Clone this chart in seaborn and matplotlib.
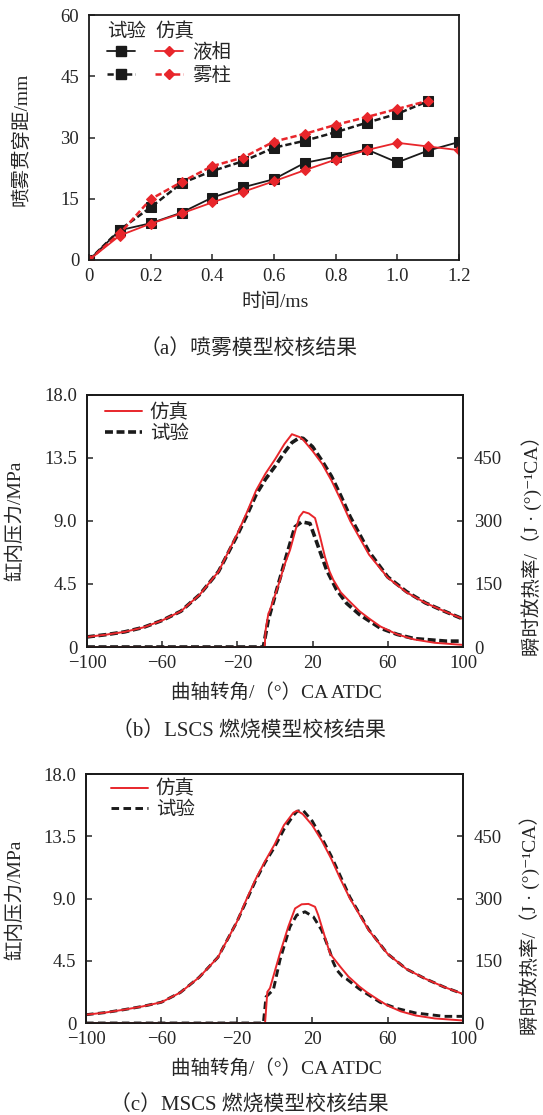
import numpy as np
import pandas as pd
import matplotlib
matplotlib.use("Agg")
import matplotlib.pyplot as plt
from matplotlib.lines import Line2D
from matplotlib.legend_handler import HandlerTuple
import seaborn as sns

# ---------------- data ----------------
# (a) spray penetration, mm
t_liquid = [0, 0.1, 0.2, 0.3, 0.4, 0.5, 0.6, 0.7, 0.8, 0.9, 1.0, 1.1, 1.2]
exp_liquid = [0, 7.3, 9.0, 11.6, 15.3, 17.8, 19.8, 23.8, 25.3, 27.1, 23.9, 26.8, 28.9]
sim_liquid = [0, 6.0, 8.9, 11.4, 14.1, 16.7, 19.3, 22.0, 24.6, 26.9, 28.7, 27.8, 26.9]
t_spray = [0, 0.1, 0.2, 0.3, 0.4, 0.5, 0.6, 0.7, 0.8, 0.9, 1.0, 1.1]
exp_spray = [0, 7.4, 12.9, 18.8, 21.8, 24.2, 27.5, 29.2, 31.3, 33.6, 35.8, 38.9]
sim_spray = [0, 6.5, 14.9, 19.1, 23.0, 25.1, 29.0, 30.9, 33.1, 35.0, 37.0, 39.0]

# (b) LSCS: cylinder pressure (MPa)
ang_p_b = [-100, -90, -80, -70, -60, -50, -40, -30, -20, -15, -10, -5, 0, 5, 9, 13,
           15, 20, 25, 30, 35, 40, 50, 60, 70, 80, 90, 100]
sim_p_b = [0.72, 0.88, 1.08, 1.4, 1.9, 2.56, 3.75, 5.4, 8.1, 9.6, 11.2, 12.4, 13.4, 14.5,
           15.2, 15.0, 14.8, 14.0, 13.1, 11.9, 10.5, 9.0, 6.6, 4.95, 3.9, 3.15, 2.56, 2.0]
exp_p_b = [0.72, 0.88, 1.08, 1.4, 1.9, 2.56, 3.75, 5.4, 8.0, 9.4, 10.9, 12.0, 12.9, 13.9,
           14.6, 14.95, 14.9, 14.3, 13.3, 12.2, 10.8, 9.3, 6.8, 5.0, 3.95, 3.15, 2.56, 2.0]
# (b) LSCS: heat release rate J/(deg CA)
ang_hs_b = [-100, -5.5, -5, -3.5, -3, -1, 2, 5, 8, 11, 13, 15.1, 18, 21.3, 24, 26.6, 29,
            31, 35, 38.9, 45, 50, 56, 65, 74, 85, 100]
sim_h_b = [0, 0, 40, 80, 84, 110, 150, 195, 231, 280, 310, 322, 318, 307, 262, 214, 180,
           160, 130, 112, 85, 68, 49, 30, 18, 10, 5]
ang_he_b = [-100, -6.2, -3.6, 0.9, 6.2, 10.6, 14.2, 18.6, 23, 27.5, 32.8, 38.1, 45, 56,
            65, 74, 91, 100]
exp_h_b = [0, 0, 64, 136, 219, 286, 298, 294, 239, 183, 136, 104, 77, 45, 30, 20, 14, 14]

# (c) MSCS: cylinder pressure (MPa)
ang_p_c = [-100, -90, -80, -70, -60, -50, -40, -30, -20, -15, -10, -5, 0, 5, 10, 12, 15,
           20, 25, 30, 35, 40, 50, 60, 70, 80, 90, 100]
sim_p_c = [0.6, 0.75, 0.96, 1.2, 1.5, 2.2, 3.3, 4.75, 7.3, 8.9, 10.4, 11.7, 12.9, 14.3,
           15.2, 15.35, 15.1, 14.3, 13.2, 11.9, 10.4, 9.0, 6.7, 5.0, 3.9, 3.2, 2.6, 2.1]
exp_p_c = [0.6, 0.75, 0.96, 1.2, 1.5, 2.2, 3.3, 4.75, 7.3, 8.8, 10.3, 11.6, 12.7, 14.0,
           15.0, 15.3, 15.4, 14.6, 13.4, 12.1, 10.6, 9.1, 6.75, 5.0, 3.9, 3.2, 2.6, 2.1]
# (c) MSCS: heat release rate
ang_hs_c = [-100, -5, -3.8, -2.4, 2.9, 7.3, 10.9, 14.4, 18, 21.5, 23.2, 29.4, 31, 35,
            39.2, 45, 49, 55, 60, 67, 75, 85, 100]
sim_h_c = [0, 0, 75, 84, 168, 232, 276, 286, 287, 280, 260, 168, 158, 135, 112, 88, 74,
           56, 42, 28, 18, 11, 6]
ang_he_c = [-100, -5.9, -4.5, -0.6, 2.9, 8.2, 11.8, 16.2, 20.6, 25, 29.4, 31, 33, 36,
            38.3, 45, 56, 65, 75, 90, 100]
exp_h_c = [0, 0, 63, 80, 152, 232, 260, 268, 256, 224, 172, 148, 128, 112, 106, 82, 50,
           35, 24, 16, 16]

# ---------------- style ----------------
sns.set_style("ticks")
FAM = ["Liberation Serif", "Noto Sans CJK SC", "DejaVu Sans"]
FAM_SUP = ["Liberation Serif", "DejaVu Serif", "Noto Sans CJK SC"]
plt.rcParams["font.family"] = FAM
plt.rcParams["axes.unicode_minus"] = True
plt.rcParams["axes.linewidth"] = 1.3
plt.rcParams["xtick.direction"] = "in"
plt.rcParams["ytick.direction"] = "in"

RED = "#e8262b"
BLK = "#1a1a1a"
TICK_FS = 13.5
LAB_FS = 14
CAP_FS = 15

W, H = 543, 1115
fig = plt.figure(figsize=(W / 100, H / 100), dpi=100)


def ax_rect(l, r, t, b):
    return [l / W, 1 - b / H, (r - l) / W, (b - t) / H]


def style_axis(ax):
    for s in ax.spines.values():
        s.set_color(BLK)
        s.set_linewidth(1.3)
    ax.tick_params(axis="x", length=4, width=1.1, pad=6, labelsize=TICK_FS, top=False)
    ax.tick_params(axis="y", length=4, width=1.1, pad=7, labelsize=TICK_FS, right=False)


def line(ax, x, y, **kw):
    sns.lineplot(x=np.asarray(x, float), y=np.asarray(y, float), ax=ax,
                 sort=False, estimator=None, legend=False, **kw)


# ---------------- (a) ----------------
axa = fig.add_axes(ax_rect(89, 459, 15, 260))
line(axa, t_spray, exp_spray, color=BLK, lw=1.8, linestyle=(0, (2.5, 1.2)),
     marker="s", markersize=6.5, markeredgecolor=BLK, markerfacecolor=BLK)
line(axa, t_liquid, exp_liquid, color=BLK, lw=1.3,
     marker="s", markersize=6.5, markeredgecolor=BLK, markerfacecolor=BLK)
line(axa, t_spray, sim_spray, color=RED, lw=1.8, linestyle=(0, (2.5, 1.2)),
     marker="D", markersize=5.5, markeredgecolor=RED, markerfacecolor=RED)
line(axa, t_liquid, sim_liquid, color=RED, lw=1.3,
     marker="D", markersize=5.5, markeredgecolor=RED, markerfacecolor=RED)
axa.set_xlim(0, 1.2)
axa.set_ylim(0, 60)
axa.set_xticks([0, 0.2, 0.4, 0.6, 0.8, 1.0, 1.2])
axa.set_xticklabels(["0", "0.2", "0.4", "0.6", "0.8", "1.0", "1.2"])
axa.set_yticks([0, 15, 30, 45, 60])
axa.set_xlabel("")
axa.set_ylabel("")
style_axis(axa)

h_el = Line2D([], [], color=BLK, lw=1.3, marker="s", markersize=6.5)
h_sl = Line2D([], [], color=RED, lw=1.3, marker="D", markersize=5.5)
h_es = Line2D([], [], color=BLK, lw=1.8, ls=(0, (2.5, 1.2)), marker="s", markersize=6.5)
h_ss = Line2D([], [], color=RED, lw=1.8, ls=(0, (2.5, 1.2)), marker="D", markersize=5.5)
axa.legend([(h_el, h_sl), (h_es, h_ss)], ["液相", "雾柱"],
           handler_map={tuple: HandlerTuple(ndivide=None, pad=1.0)},
           loc="upper left", bbox_to_anchor=(0.049, 0.885), borderaxespad=0,
           borderpad=0, frameon=False, handlelength=3.9, handletextpad=0.5,
           labelspacing=0.25, prop={"family": FAM, "size": LAB_FS})
axa.text(0.049, 0.931, "试验", transform=axa.transAxes, ha="left", va="center",
         fontsize=LAB_FS)
axa.text(0.178, 0.931, "仿真", transform=axa.transAxes, ha="left", va="center",
         fontsize=LAB_FS)

fig.text(21 / W, 1 - 139 / H, "喷雾贯穿距/mm", rotation=90, ha="center", va="center",
         fontsize=LAB_FS)
fig.text(275 / W, 1 - 302 / H, "时间/ms", ha="center", va="center", fontsize=LAB_FS)
fig.text(249 / W, 1 - 350 / H, "（a）喷雾模型校核结果", ha="center", va="center",
         fontsize=CAP_FS)


# ---------------- (b), (c) ----------------
def combustion_panel(rect, ang_p, sim_p, exp_p, ang_hs, sim_h, ang_he, exp_h,
                     dash_lw, dash_pat, leg_anchor):
    ax = fig.add_axes(rect)
    ax2 = ax.twinx()
    # pressure
    line(ax, ang_p, exp_p, color=BLK, lw=dash_lw, linestyle=(0, dash_pat))
    line(ax, ang_p, sim_p, color=RED, lw=1.4)
    # heat release
    line(ax2, ang_he, exp_h, color=BLK, lw=dash_lw, linestyle=(0, dash_pat))
    line(ax2, ang_hs, sim_h, color=RED, lw=1.4)
    ax.set_xlim(-100, 100)
    ax.set_ylim(0, 18)
    ax2.set_ylim(0, 600)
    ax.set_xticks([-100, -60, -20, 20, 60, 100])
    ax.set_yticks([0, 4.5, 9.0, 13.5, 18.0])
    ax.set_yticklabels(["0", "4.5", "9.0", "13.5", "18.0"])
    ax2.set_yticks([0, 150, 300, 450])
    for a in (ax, ax2):
        a.set_xlabel("")
        a.set_ylabel("")
    style_axis(ax)
    for s in ax2.spines.values():
        s.set_color(BLK)
        s.set_linewidth(1.3)
    ax2.tick_params(axis="y", length=4, width=1.1, pad=8, labelsize=TICK_FS,
                    left=False, right=True, labelright=True, labelleft=False)
    hs = [Line2D([], [], color=RED, lw=1.4),
          Line2D([], [], color=BLK, lw=dash_lw, ls=(0, dash_pat))]
    ax.legend(hs, ["仿真", "试验"], loc="upper left", bbox_to_anchor=leg_anchor,
              borderaxespad=0, borderpad=0, frameon=False, handlelength=1.9,
              handletextpad=0.4, labelspacing=0.15,
              prop={"family": FAM, "size": LAB_FS})
    return ax, ax2


RIGHT_LABEL = "瞬时放热率/（J · (°)⁻¹CA）"

combustion_panel(ax_rect(87, 463, 395, 647), ang_p_b, sim_p_b, exp_p_b,
                 ang_hs_b, sim_h_b, ang_he_b, exp_h_b, 2.6, (2.2, 1.0), (0.048, 0.965))
fig.text(15 / W, 1 - 521 / H, "缸内压力/MPa", rotation=90, ha="center", va="center",
         fontsize=LAB_FS)
fig.text(532 / W, 1 - 541 / H, RIGHT_LABEL, rotation=90, ha="center",
         va="center", fontsize=LAB_FS, family=FAM_SUP)
fig.text(276 / W, 1 - 692 / H, "曲轴转角/（°）CA ATDC", ha="center", va="center",
         fontsize=LAB_FS)
fig.text(249 / W, 1 - 732 / H, "（b）LSCS 燃烧模型校核结果", ha="center", va="center",
         fontsize=CAP_FS)

combustion_panel(ax_rect(86, 463, 774, 1023), ang_p_c, sim_p_c, exp_p_c,
                 ang_hs_c, sim_h_c, ang_he_c, exp_h_c, 2.1, (2.6, 1.5), (0.066, 0.975))
fig.text(15 / W, 1 - 900 / H, "缸内压力/MPa", rotation=90, ha="center", va="center",
         fontsize=LAB_FS)
fig.text(530 / W, 1 - 920 / H, RIGHT_LABEL, rotation=90, ha="center",
         va="center", fontsize=LAB_FS, family=FAM_SUP)
fig.text(276 / W, 1 - 1068 / H, "曲轴转角/（°）CA ATDC", ha="center", va="center",
         fontsize=LAB_FS)
fig.text(249 / W, 1 - 1106 / H, "（c）MSCS 燃烧模型校核结果", ha="center", va="center",
         fontsize=CAP_FS)

fig.savefig("out.png", dpi=100, facecolor="white")
